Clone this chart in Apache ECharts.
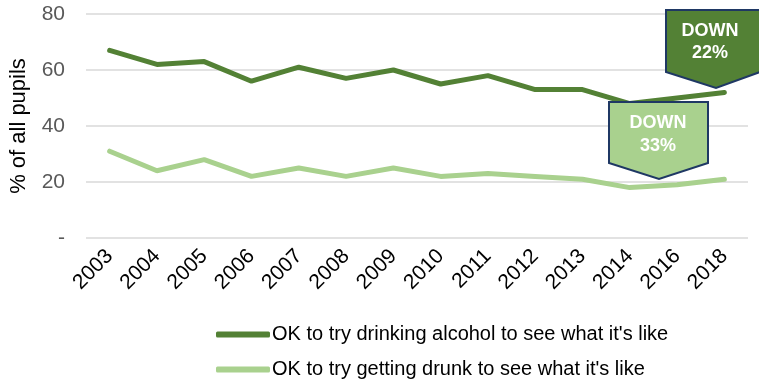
<!DOCTYPE html>
<html>
<head>
<meta charset="utf-8">
<script src="https://cdn.jsdelivr.net/npm/echarts@6/dist/echarts.min.js"></script>
<style>
  html, body { margin: 0; padding: 0; background: #fff; }
  #chart { width: 759px; height: 385px; }
</style>
</head>
<body>
<div id="chart"></div>
<script>
// survey years
var years = ["2003", "2004", "2005", "2006", "2007", "2008", "2009",
  "2010", "2011", "2012", "2013", "2014", "2016", "2018"];
// % of pupils saying it is ok
var okDrinking = [67, 62, 63, 56, 61, 57, 60, 55, 58, 53, 53, 48, 50, 52];
var okDrunk = [31, 24, 28, 22, 25, 22, 25, 22, 23, 22, 21, 18, 19, 21];
var yTicks = [0, 20, 40, 60, 80];

var dark = "#538135";
var light = "#a9d18e";
var navy = "#1f3864";
var font = "Liberation Sans";

var chart = echarts.init(document.getElementById("chart"));

var option = {
  animation: false,
  textStyle: { fontFamily: font },
  grid: { left: 85, right: 11, top: 14, bottom: 147 },
  legend: {
    orient: "vertical",
    left: 216,
    top: 323,
    height: 62,
    padding: 0,
    itemWidth: 54,
    itemHeight: 6,
    itemGap: 12,
    icon: "roundRect",
    textStyle: { fontSize: 20, lineHeight: 23, color: "#000", fontFamily: font, padding: [0, 0, 0, -3] },
    data: ["OK to try drinking alcohol to see what it's like",
      "OK to try getting drunk to see what it's like"]
  },
  xAxis: {
    type: "category",
    data: years,
    boundaryGap: true,
    axisLine: { show: false },
    axisTick: { show: false },
    axisLabel: { rotate: 45, fontSize: 21, color: "#000", margin: 15, fontFamily: font }
  },
  yAxis: {
    type: "value",
    min: yTicks[0],
    max: yTicks[yTicks.length - 1],
    interval: 20,
    name: "% of all pupils",
    nameLocation: "middle",
    nameGap: 56,
    nameTextStyle: { fontSize: 22, color: "#000", fontFamily: font },
    axisLine: { show: false },
    axisTick: { show: false },
    axisLabel: {
      fontSize: 21, color: "#595959", margin: 21, fontFamily: font,
      formatter: function (v) { return v === 0 ? "-" : String(v); }
    },
    splitLine: { lineStyle: { color: "#d9d9d9", width: 1.5 } }
  },
  series: [
    {
      name: "OK to try drinking alcohol to see what it's like",
      type: "line",
      data: okDrinking,
      symbol: "none",
      color: dark,
      lineStyle: { width: 5, color: dark, cap: "round" }
    },
    {
      name: "OK to try getting drunk to see what it's like",
      type: "line",
      data: okDrunk,
      symbol: "none",
      color: light,
      lineStyle: { width: 5, color: light, cap: "round" }
    }
  ],
  graphic: [
    {
      type: "polygon",
      z: 100,
      shape: { points: [[666, 10], [760, 10], [760, 72], [716, 88], [666, 72]] },
      style: { fill: dark, stroke: navy, lineWidth: 2 }
    },
    {
      type: "text",
      z: 101,
      x: 710, y: 42,
      style: { text: "DOWN\n22%", fill: "#fff", font: "bold 18px " + font, align: "center", verticalAlign: "middle", lineHeight: 22 }
    },
    {
      type: "polygon",
      z: 100,
      shape: { points: [[609, 102], [708, 102], [708, 163], [659, 179], [609, 163]] },
      style: { fill: light, stroke: navy, lineWidth: 2 }
    },
    {
      type: "text",
      z: 101,
      x: 658, y: 135,
      style: { text: "DOWN\n33%", fill: "#fff", font: "bold 18px " + font, align: "center", verticalAlign: "middle", lineHeight: 23 }
    }
  ]
};

chart.setOption(option);
</script>
</body>
</html>
